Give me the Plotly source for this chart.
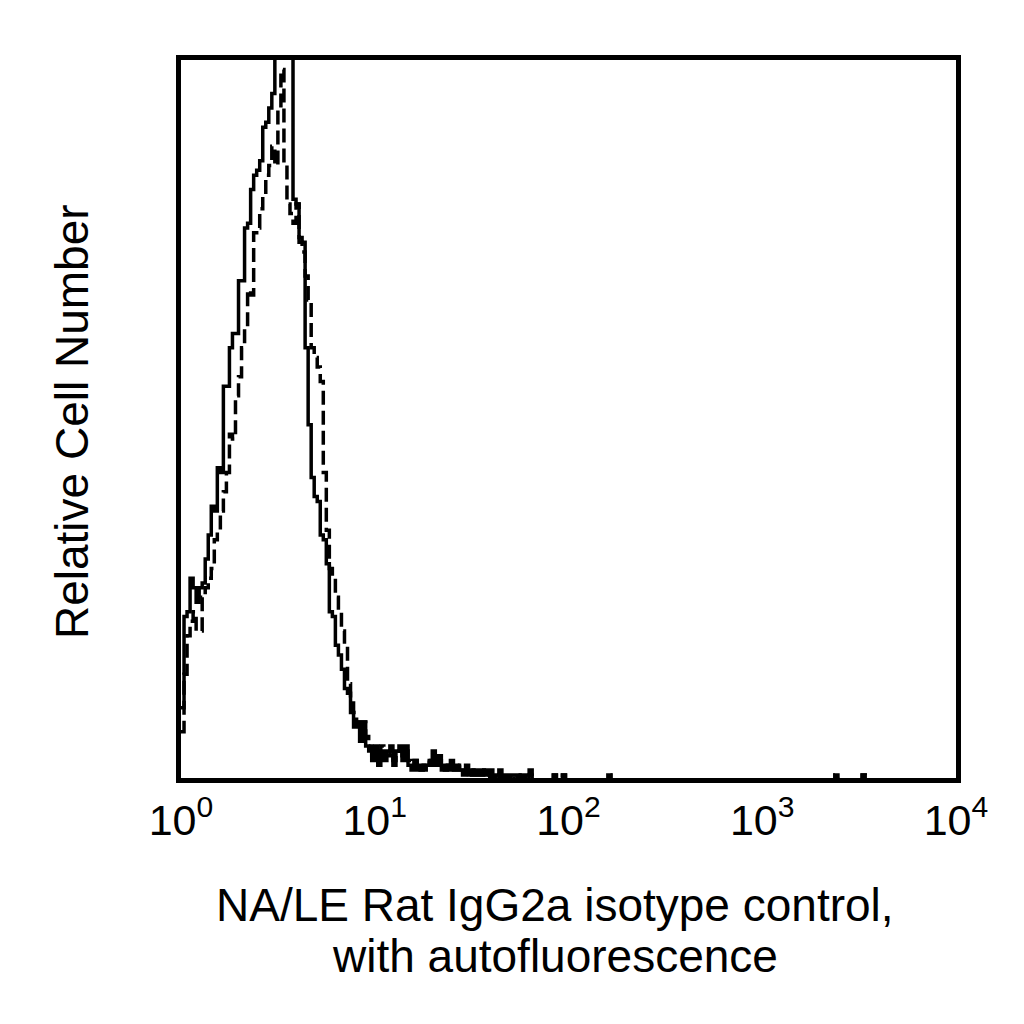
import numpy as np
import plotly.graph_objects as go

# 256 log channels over 4 decades (10^0 .. 10^4)
n_channels = 256
decades = 4

# counts per channel, channels 0..115, rest zero except a few single events
solid_counts = [
    15, 34, 35, 42, 40, 37, 40, 41, 46, 51,
    57, 56, 65, 64, 82, 82, 90, 93, 93, 104,
    104, 115, 116, 123, 126, 127, 129, 136, 137, 140,
    143, 155, 168, 181, 176, 163, 158, 121, 120, 113,
    112, 90, 74, 63, 59, 58, 51, 50, 45, 35,
    34, 28, 26, 23, 19, 18, 14, 11, 12, 8,
    12, 7, 6, 4, 7, 3, 6, 4, 6, 7,
    3, 6, 7, 4, 7, 3, 2, 4, 2, 3,
    2, 3, 4, 6, 3, 5, 2, 3, 2, 4,
    2, 3, 2, 2, 3, 1, 2, 1, 2, 1,
    2, 1, 2, 0, 1, 2, 0, 1, 0, 1,
    1, 0, 1, 0, 1, 2,
]
dashed_counts = [
    10, 22, 30, 33, 35, 31, 31, 38, 40, 42,
    44, 50, 52, 56, 60, 64, 72, 71, 80, 84,
    90, 94, 102, 101, 114, 115, 119, 122, 126, 128,
    132, 128, 140, 148, 128, 120, 118, 116, 120, 112,
    110, 105, 100, 90, 88, 86, 83, 64, 52, 44,
    42, 38, 35, 31, 28, 20, 16, 14, 12, 10,
    12, 9, 7, 5, 6, 4, 7, 5, 5, 6,
    4, 5, 6, 5, 6, 4, 3, 4, 3, 2,
    3, 4, 3, 5, 4, 4, 3, 2, 3, 3,
    2, 2, 3, 1, 2, 2, 1, 2, 1, 1,
    2, 1, 0, 1, 1, 0, 1, 1, 0, 0,
    1, 1, 0, 1, 0, 1,
]
# isolated single events further out (channel: count)
tail_events = {123: 1, 126: 1, 141: 1, 216: 1, 225: 1}

y_max = 150

tick_vals = [1, 10, 100, 1000, 10000]
tick_text = ["10<sup>0</sup>", "10<sup>1</sup>", "10<sup>2</sup>", "10<sup>3</sup>", "10<sup>4</sup>"]


def full_histogram(counts):
    h = np.zeros(n_channels)
    h[:len(counts)] = counts
    for ch, c in tail_events.items():
        h[ch] = c
    return h


edges = 10 ** (np.arange(n_channels + 1) * decades / n_channels)


def step_trace(counts, dash):
    h = full_histogram(counts)
    y = np.append(h, h[-1])
    return go.Scatter(
        x=edges,
        y=y,
        mode="lines",
        line=dict(color="black", width=3.5, dash=dash, shape="hv"),
        showlegend=False,
        hoverinfo="skip",
    )


fig = go.Figure()
fig.add_trace(step_trace(dashed_counts, "14px,6px"))
fig.add_trace(step_trace(solid_counts, "solid"))

font_family = "Liberation Sans, Arial, sans-serif"

fig.update_layout(
    width=1024,
    height=1024,
    margin=dict(l=173, r=76, t=52, b=254),
    plot_bgcolor="white",
    paper_bgcolor="white",
    font=dict(family=font_family, color="black"),
    xaxis=dict(
        type="log",
        range=[0, 4],
        tickvals=tick_vals,
        ticktext=tick_text,
        tickfont=dict(size=43, color="black"),
        ticks="",
        showgrid=False,
        zeroline=False,
        showline=True,
        linewidth=5,
        linecolor="black",
        mirror=True,
    ),
    yaxis=dict(
        range=[0.35, y_max],
        showticklabels=False,
        ticks="",
        showgrid=False,
        zeroline=False,
        showline=True,
        linewidth=5,
        linecolor="black",
        mirror=True,
    ),
    annotations=[
        dict(text="NA/LE Rat IgG2a isotype control,", xref="paper", yref="paper",
             x=0.4826, y=-0.177, xanchor="center", yanchor="middle",
             showarrow=False, font=dict(size=46, color="black")),
        dict(text="with autofluorescence", xref="paper", yref="paper",
             x=0.4826, y=-0.248, xanchor="center", yanchor="middle",
             showarrow=False, font=dict(size=46, color="black")),
        dict(text="Relative Cell Number", xref="paper", yref="paper",
             x=-0.1406, y=0.4958, xanchor="center", yanchor="middle",
             textangle=-90, showarrow=False, font=dict(size=46, color="black")),
    ],
)

fig.write_html("out.html")
